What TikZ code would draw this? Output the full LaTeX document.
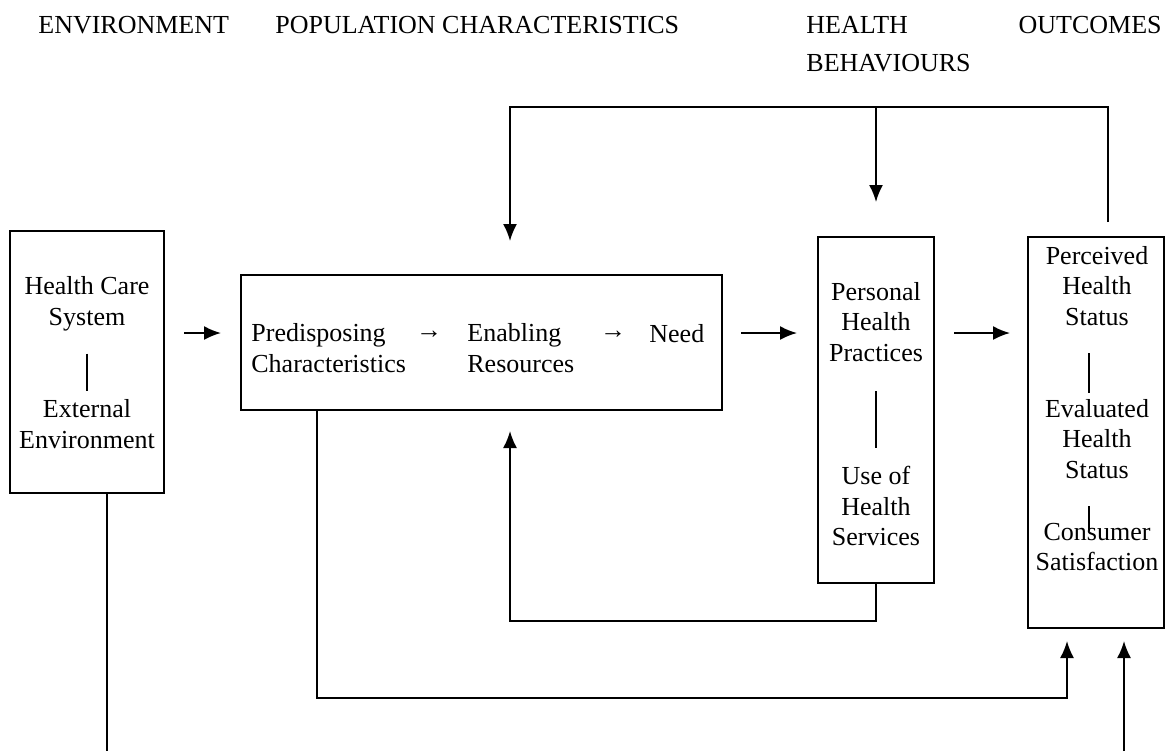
\documentclass[tikz,border=0pt]{standalone}
\usepackage{fontspec}
\setmainfont{Liberation Serif}
\usetikzlibrary{arrows.meta,calc}
\tikzset{>={Latex[length=8.5pt,width=7pt]}, % filled arrow tips
  block/.style={draw, line width=1pt, fill=white, inner sep=0pt},
  words/.style={align=center, inner sep=0pt},
  link/.style={line width=0.9pt},
  gap arrow/.style={link, ->, shorten <=9.5pt, shorten >=9.5pt},
  model diagram/.style={
    x=0.5pt,
    y=-0.5pt,
    font={\fontsize{13}{15.3}\selectfont},
  },
}

\begin{document}
\begin{tikzpicture}[model diagram]
    \useasboundingbox (0,0) rectangle (1167,751);
    \coordinate (arrowrow) at (0,333);
    \coordinate (topbus) at (0,107);
    \coordinate (midbus) at (0,621);
    \coordinate (lowbus) at (0,698);
    \coordinate (edge) at (0,751);

    % headings
    \node [words, anchor=west] (henv) at (38,25) {ENVIRONMENT};
    \node [words, anchor=west] (hpop) at (275,25) {POPULATION CHARACTERISTICS};
    \node [words, anchor=west, align=left] (hbeh) at (806,44) {HEALTH\\[3.7pt]BEHAVIOURS};
    \node [words, anchor=east] (hout) at (1162,25) {OUTCOMES};

    % boxes
    \node [block, minimum width=77pt, minimum height=131pt] (env) at (87,362) {};
    \node [block, minimum width=240.5pt, minimum height=67.5pt] (pop) at (481.5,342.5) {};
    \node [block, minimum width=58pt, minimum height=173pt] (beh) at (876,410) {};
    \node [block, minimum width=68pt, minimum height=195.5pt] (out) at (1096,432.5) {};

    % environment
    \node [words] (hcs) at (87,304) {Health Care\\System};
    \node [words] (ext) at (87,424) {External\\Environment};
    \draw [link, shorten <=11pt, shorten >=4pt] (hcs.south) -- (ext.north);

    % population characteristics
    \node [words, anchor=west, align=left] (pre) at (251,348) {Predisposing\\Characteristics};
    \node [words] (pa1) at (429,335) {→};
    \node [words, anchor=west, align=left] (ena) at (467,348) {Enabling\\Resources};
    \node [words] (pa2) at (613,335) {→};
    \node [words, anchor=west] (need) at (649,334) {Need};

    % health behaviours
    \node [words] (pers) at (876,322) {Personal\\Health\\Practices};
    \node [words] (use) at (876,506) {Use of\\Health\\Services};
    \draw [link, shorten <=14.5pt, shorten >=9pt] (pers.south) -- (use.north);

    % outcomes
    \node [words] (perc) at (1097,286) {Perceived\\Health\\Status};
    \node [words] (eval) at (1097,439) {Evaluated\\Health\\Status};
    \node [words] (cons) at (1097,547) {Consumer\\Satisfaction};
    \draw [link, shorten <=13.5pt, shorten >=3pt] ([xshift=-4pt]perc.south) -- ([xshift=-4pt]eval.north);
    \draw [link, shorten <=13.5pt, shorten >=-4pt] ([xshift=-4pt]eval.south) -- ([xshift=-4pt]cons.north);

    % forward arrows
    \draw [gap arrow] (env.east |- arrowrow) -- (pop.west |- arrowrow);
    \draw [gap arrow, shorten <=9pt, shorten >=10pt] (pop.east |- arrowrow) -- (beh.west |- arrowrow);
    \draw [gap arrow, shorten >=8.5pt] (beh.east |- arrowrow) -- (out.west |- arrowrow);

    % feedback loops
    \draw [link, ->, shorten <=7pt, shorten >=16.5pt] ([xshift=6pt]out.north)
      |- ([xshift=14.25pt]pop.north |- topbus) -- ([xshift=14.25pt]pop.north);
    \draw [link, ->, shorten >=17pt] (beh.north |- topbus) -- (beh.north);
    \draw [link, ->, shorten >=10pt] (beh.south)
      |- ([xshift=14.25pt]pop.south |- midbus) -- ([xshift=14.25pt]pop.south);
    \draw [link, ->, shorten >=6pt] ([xshift=-82.25pt]pop.south)
      |- ([xshift=-14.5pt]out.south |- lowbus) -- ([xshift=-14.5pt]out.south);
    \draw [link] ([xshift=10pt]env.south) -- ([xshift=10pt]env.south |- edge);
    \draw [link, ->, shorten >=6pt] ([xshift=14pt]out.south |- edge) -- ([xshift=14pt]out.south);

\end{tikzpicture}
\end{document}
